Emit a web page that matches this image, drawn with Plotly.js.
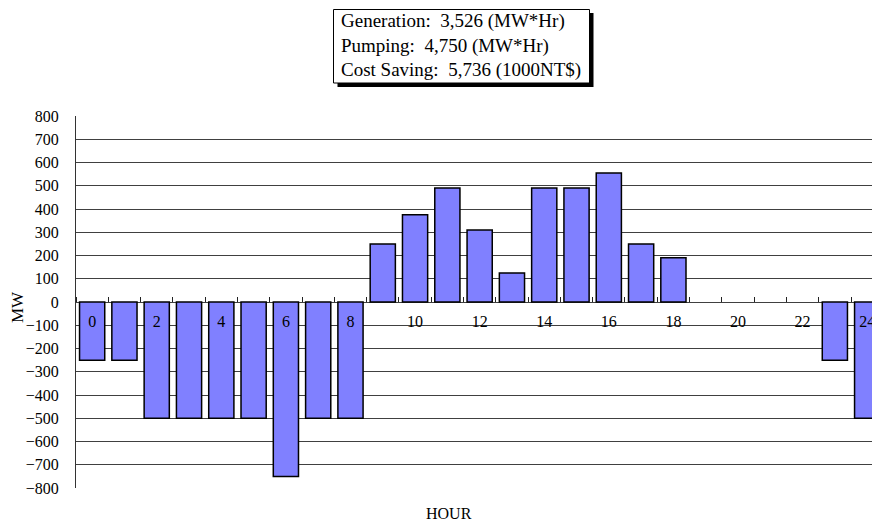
<!DOCTYPE html>
<html>
<head>
<meta charset="utf-8">
<script src="https://cdn.plot.ly/plotly-3.0.1.min.js"></script>
<style>html,body{margin:0;padding:0;background:#fff;}</style>
</head>
<body>
<div id="chart" style="width:872px;height:524px;"></div>
<script>
// Data
var hours = [0,1,2,3,4,5,6,7,8,9,10,11,12,13,14,15,16,17,18,19,20,21,22,23,24];
var mw = [-250,-250,-500,-500,-500,-500,-750,-500,-500,250,375,490,310,125,490,490,555,250,190,0,0,0,0,-250,-500];
var xTickVals = [0,2,4,6,8,10,12,14,16,18,20,22,24];
var xTickText = ['0','2','4','6','8','10','12','14','16','18','20','22','24'];
var yTickVals = [-800,-700,-600,-500,-400,-300,-200,-100,0,100,200,300,400,500,600,700,800];
var summaryLines = ['Generation:  3,526 (MW*Hr)', 'Pumping:  4,750 (MW*Hr)', 'Cost Saving:  5,736 (1000NT$)'];
var xTitle = 'HOUR';
var yTitle = 'MW';

var W = 872, H = 524, ml = 76, mr = 0, mt = 116, mb = 36;
var pw = W - ml - mr, ph = H - mt - mb;
function px(x){ return (x - ml) / pw; }
function py(y){ return (H - mb - y) / ph; }

var serif = 'Liberation Serif, Times New Roman, serif';

// zero-valued hours draw no visible bar
var yPlot = mw.map(function(v){ return v === 0 ? null : v; });

var trace = {
  type: 'bar',
  x: hours,
  y: yPlot,
  marker: {color: '#8080FF', line: {color: '#000', width: 1.5}},
  hoverinfo: 'x+y'
};

var layout = {
  width: W, height: H,
  margin: {l: ml, r: mr, t: mt, b: mb, pad: 0},
  paper_bgcolor: '#fff', plot_bgcolor: '#fff',
  showlegend: false,
  bargap: 0.22,
  font: {family: serif, color: '#000'},
  xaxis: {
    range: [-0.5, 24.15],
    anchor: 'free', position: 0.5,
    tickmode: 'array', tickvals: xTickVals, ticktext: xTickText,
    ticks: '', showgrid: false, zeroline: false, showline: false,
    tickfont: {family: serif, size: 16, color: '#000'},
    ticklabelstandoff: 8,
    ticklabeloverflow: 'allow',
    minor: {tick0: 0.5, dtick: 1, ticks: 'inside', ticklen: 5, tickcolor: '#222', tickwidth: 1, showgrid: false}
  },
  yaxis: {
    range: [-800, 800],
    tickmode: 'array', tickvals: yTickVals,
    showgrid: true, gridcolor: '#404040', gridwidth: 1,
    zeroline: false,
    showline: true, linecolor: '#333', linewidth: 1,
    ticks: '',
    tickfont: {family: serif, size: 16, color: '#000'},
    ticklabelstandoff: 13
  },
  shapes: [
    {type: 'rect', xref: 'paper', yref: 'paper', x0: px(337.5), x1: px(593.5), y0: py(87), y1: py(13),
     fillcolor: '#000', line: {width: 0}, layer: 'above'},
    {type: 'rect', xref: 'paper', yref: 'paper', x0: px(333.5), x1: px(589.5), y0: py(83), y1: py(9.5),
     fillcolor: '#fff', line: {color: '#000', width: 1}, layer: 'above'}
  ],
  annotations: [
    {xref: 'paper', yref: 'paper', x: px(339), y: py(46), xanchor: 'left', yanchor: 'middle', align: 'left',
     text: summaryLines.join('<br>'), showarrow: false, font: {family: serif, size: 19, color: '#000'}},
    {xref: 'paper', yref: 'paper', x: px(449), y: py(513), xanchor: 'center', yanchor: 'middle',
     text: xTitle, showarrow: false, font: {family: serif, size: 16, color: '#000'}},
    {xref: 'paper', yref: 'paper', x: px(17.5), y: py(307.5), xanchor: 'center', yanchor: 'middle',
     text: yTitle, textangle: -90, showarrow: false, font: {family: serif, size: 17, color: '#000'}}
  ]
};

Plotly.newPlot('chart', [trace], layout, {displayModeBar: false, staticPlot: true});
</script>
</body>
</html>
